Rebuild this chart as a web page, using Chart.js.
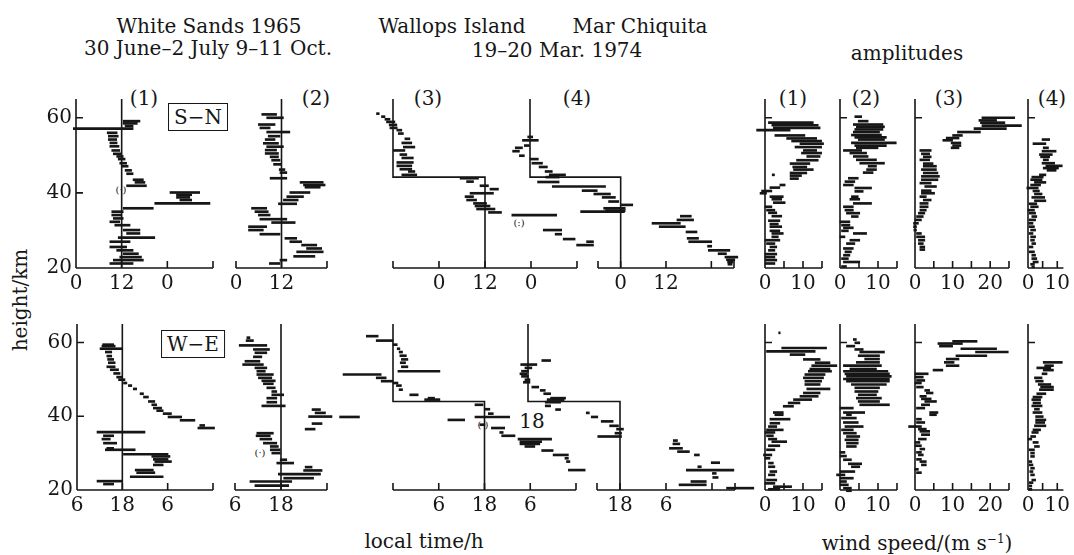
<!DOCTYPE html>
<html>
<head>
<meta charset="utf-8">
<script src="https://cdn.jsdelivr.net/npm/chart.js@4.4.1/dist/chart.umd.min.js"></script>
<style>
  html, body { margin: 0; padding: 0; background: #fff; }
  #page { position: relative; width: 1074px; height: 555px; overflow: hidden;
          font-family: 'DejaVu Serif', serif; color: #161616; }
  #page canvas { position: absolute; left: 0; top: 0; }
  .t { position: absolute; white-space: nowrap; transform: translate(-50%, -50%);
       font-size: 20px; line-height: 1; }
  .box { border: 1.5px solid #161616; padding: 3px 5px; }
  .small { font-size: 10px; }
  .rot { transform: translate(-50%, -50%) rotate(-90deg); }
</style>
</head>
<body>
<div id="page">
  <div class="t" style="left:209px;top:26px">White Sands 1965</div>
  <div class="t" style="left:208px;top:48px">30 June–2 July 9–11 Oct.</div>
  <div class="t" style="left:452px;top:26px">Wallops Island</div>
  <div class="t" style="left:640px;top:26px">Mar Chiquita</div>
  <div class="t" style="left:557px;top:50px">19–20 Mar. 1974</div>
  <div class="t" style="left:907px;top:53px">amplitudes</div>

  <div class="t" style="left:144px;top:98px">(1)</div>
  <div class="t" style="left:316px;top:98px">(2)</div>
  <div class="t" style="left:428px;top:98px">(3)</div>
  <div class="t" style="left:577px;top:98px">(4)</div>
  <div class="t" style="left:793px;top:98px">(1)</div>
  <div class="t" style="left:866px;top:98px">(2)</div>
  <div class="t" style="left:949px;top:98px">(3)</div>
  <div class="t" style="left:1052px;top:98px">(4)</div>

  <div class="t box" style="left:198px;top:117px">S−N</div>
  <div class="t box" style="left:193px;top:344px">W−E</div>
  <div class="t" style="left:532px;top:421px">18</div>
  <div class="t small" style="left:121px;top:190px">(·)</div>
  <div class="t small" style="left:519px;top:223px">(:)</div>
  <div class="t small" style="left:260px;top:453px">(·)</div>
  <div class="t small" style="left:483px;top:425px">(·)</div>

  <div class="t rot" style="left:20px;top:300px">height/km</div>
  <div class="t" style="left:424px;top:541px">local time/h</div>
  <div class="t" style="left:917px;top:543px">wind speed/(m s<sup style="font-size:12px">−1</sup>)</div>
</div>
<script>
// each bar: [height km, low, high]
const heightTicks = [20, 40, 60];

const snPhase1 = [
  [59.1,12.4,16.8],[58.5,12.4,16.1],[57.8,12.9,15.0],[57.1,-0.7,15.0],[56.0,8.2,10.8],[55.1,8.5,11.1],
  [54.2,8.5,10.7],[53.3,8.9,10.8],[52.4,8.9,11.3],[51.3,9.4,11.5],[50.4,9.8,12.0],[49.7,10.7,12.4],
  [49.0,11.1,12.9],[47.9,11.5,13.3],[47.1,12.0,13.7],[46.0,12.9,14.6],[45.1,13.3,15.0],[43.5,15.0,17.7],
  [42.8,15.5,18.1],[41.9,13.3,18.5],[40.1,24.7,32.5],[39.5,26.4,30.4],[38.8,26.4,29.9],[38.1,27.3,30.4],
  [37.2,20.7,35.2],[35.9,12.4,20.3],[35.0,9.4,12.4],[34.1,9.4,11.9],[33.2,9.8,12.4],[32.3,8.9,11.5],
  [31.4,10.2,14.2],[30.1,12.4,16.8],[29.2,13.3,16.8],[28.1,11.1,20.7],[27.0,8.9,14.2],[25.6,8.9,13.3],
  [24.7,10.7,15.0],[23.8,12.4,16.4],[22.9,11.5,17.2],[22.1,9.8,17.7],[21.2,8.9,15.0]
];
const snPhase2 = [
  [60.9,6.8,10.7],[60.0,8.1,12.5],[58.2,5.9,10.3],[57.3,6.3,9.0],[56.2,8.1,14.2],[55.1,8.5,11.6],
  [54.2,7.7,10.3],[53.2,7.2,11.2],[52.3,8.1,12.5],[51.4,7.7,10.7],[50.5,7.7,11.2],[49.6,9.0,11.2],
  [48.7,9.4,11.6],[47.6,9.9,12.0],[46.2,11.4,12.9],[45.4,11.6,13.4],[43.9,9.0,13.4],[42.8,16.9,23.0],
  [42.1,17.8,23.5],[41.5,18.2,22.2],[40.1,14.2,19.5],[39.0,13.4,17.8],[38.1,12.5,16.4],[37.1,11.2,16.0],
  [35.9,4.1,8.1],[35.0,5.0,8.5],[34.1,5.9,9.0],[33.0,6.3,13.4],[32.1,9.4,15.6],[31.0,3.3,8.1],
  [30.1,3.3,7.2],[29.0,6.3,11.6],[27.9,12.9,16.0],[27.0,14.2,17.3],[26.1,17.3,21.3],[25.2,18.6,22.6],
  [24.3,16.0,23.0],[23.1,15.2,20.8],[22.1,11.6,13.4],[21.2,8.8,11.6]
];
const snPhase3 = [
  [61.1,-16.3,-15.6],[60.3,-15.0,-14.1],[59.6,-14.1,-12.8],[58.9,-13.7,-11.5],[58.1,-13.0,-11.0],
  [57.3,-12.8,-10.9],[56.7,-11.0,-9.7],[55.8,-10.6,-9.3],[54.4,-8.9,-7.6],[53.3,-9.7,-7.1],[52.2,-9.3,-6.3],
  [51.3,-11.9,-8.9],[50.2,-10.2,-8.4],[49.3,-9.7,-6.7],[48.1,-11.0,-6.7],[47.2,-11.0,-7.1],[46.3,-10.2,-7.1],
  [45.7,-8.0,-6.3],[44.8,-9.7,-5.8],[43.9,5.5,10.3],[43.0,7.2,9.0],[41.9,10.7,12.9],[41.0,13.3,15.5],
  [39.9,8.1,14.2],[39.0,6.8,9.0],[38.1,7.2,9.8],[37.2,9.0,12.4],[36.5,9.4,13.3],[35.7,9.8,14.6],
  [34.8,12.9,16.3],[34.1,19.0,30.7],[30.1,27.2,32.0],[29.0,30.3,32.0],[27.7,32.4,35.5],[27.0,38.5,40.3],
  [26.1,35.9,40.3]
];
const snPhase4 = [
  [54.9,-24.6,-23.3],[54.0,-26.0,-21.8],[52.6,-25.5,-24.2],[52.0,-27.9,-26.0],[51.1,-28.6,-26.8],
  [49.9,-26.8,-25.5],[49.0,-24.0,-21.8],[47.9,-23.5,-20.7],[46.9,-21.6,-19.4],[45.7,-20.0,-18.1],
  [44.8,-18.9,-14.6],[44.2,-19.8,-16.3],[42.9,-22.0,-16.3],[41.7,-18.1,-4.0],[40.6,-10.2,-6.2],
  [39.7,-7.1,-2.7],[38.8,-4.9,-1.4],[37.7,-3.2,-0.5],[36.8,0.2,3.2],[35.9,-4.5,1.2],[35.3,-4.0,1.2],
  [35.0,-10.6,1.0],[33.8,15.8,18.7],[32.8,14.9,19.3],[31.9,8.3,15.8],[31.0,10.2,17.1],[29.6,17.3,20.2],
  [27.9,17.6,20.6],[27.0,18.0,24.1],[25.8,23.0,24.1],[24.7,23.2,28.9],[23.8,25.8,28.0],[22.9,27.6,31.0],
  [22.2,28.0,30.2],[21.6,28.3,29.7],[21.0,28.4,29.5]
];
const snAmp1 = [
  [58.7,0.9,12.7],[58.0,1.8,14.0],[57.3,2.2,14.5],[56.7,-2.2,6.6],[55.3,2.6,10.5],[54.5,5.7,13.6],
  [53.8,7.0,14.9],[53.1,9.2,15.4],[52.2,7.9,14.9],[51.3,10.1,13.6],[50.6,9.6,14.9],[49.7,11.0,14.5],
  [48.7,8.3,14.0],[47.8,6.6,11.8],[46.9,7.3,11.0],[46.2,7.5,12.7],[45.3,6.6,11.0],[44.6,6.6,9.6],
  [43.8,6.6,8.8],[44.8,1.9,2.5],[42.1,3.9,5.3],[41.4,1.3,3.9],[40.5,-0.9,1.8],[39.9,-1.3,0.4],[39.0,1.3,4.8],
  [38.3,1.8,4.4],[37.4,2.2,5.3],[36.3,0,1.8],[35.4,0.4,2.6],[34.7,0.9,3.1],[33.8,1.8,4.4],[32.6,0.9,3.9],
  [31.7,1.3,3.5],[31.0,1.3,4.4],[29.9,1.3,3.9],[29.2,1.8,4.8],[28.3,1.8,3.5],[27.4,0,3.9],[26.5,0.4,2.6],
  [25.6,1.3,3.1],[24.7,0.9,2.6],[23.7,0,3.1],[22.9,0,2.6],[22.1,0,3.1],[21.2,0,2.6]
];
const snAmp2 = [
  [60.3,3.9,5.7],[59.1,4.8,7.4],[58.2,3.5,11.3],[57.6,4.3,11.7],[56.9,3.9,11.3],[56.2,3.5,10.4],
  [55.4,3.0,10.9],[54.8,3.9,12.2],[54.2,4.8,11.7],[53.3,3.0,14.8],[52.6,3.9,12.2],[52.0,4.3,10.0],
  [51.3,0.9,5.7],[50.6,2.6,7.0],[49.7,3.5,7.4],[48.8,4.3,9.6],[47.9,5.2,11.7],[47.1,7.4,9.6],[46.2,7.0,9.6],
  [45.4,6.1,8.7],[43.9,2.2,4.8],[43.0,1.3,3.9],[42.1,0.9,3.5],[41.3,3.9,8.3],[40.4,3.9,6.1],[39.0,3.0,4.8],
  [38.3,2.6,5.2],[37.2,3.5,8.3],[36.3,0.9,3.5],[35.4,1.3,3.5],[34.6,1.7,5.2],[33.7,3.0,4.8],[32.3,0,2.6],
  [31.4,0.4,2.6],[30.7,0.9,3.5],[29.9,0.4,2.2],[29.2,3.5,7.0],[28.3,0,1.3],[27.4,2.6,5.2],[26.5,1.7,3.9],
  [25.2,0.9,3.5],[24.3,1.3,3.0],[23.4,0.9,2.6],[22.5,0.4,2.2],[21.6,0.9,5.2],[20.4,0.4,1.7]
];
const snAmp3 = [
  [60.0,17.8,26.5],[59.3,17.0,21.7],[58.7,17.4,23.9],[57.9,17.8,28.3],[57.1,15.7,24.3],[56.2,11.3,17.4],
  [55.3,10.0,12.6],[54.6,8.3,11.7],[54.0,7.4,10.0],[53.3,9.6,12.2],[52.6,10.0,12.2],[52.0,9.6,11.7],
  [51.3,1.3,4.3],[50.4,1.7,3.9],[49.6,2.2,4.3],[48.8,1.3,3.9],[47.8,2.2,4.8],[47.1,2.2,5.7],[46.2,1.7,5.7],
  [45.3,2.2,6.1],[44.4,1.7,6.5],[43.5,1.7,6.1],[42.6,1.3,4.3],[41.7,2.6,5.7],[40.6,1.7,4.3],[39.9,1.7,5.2],
  [39.0,1.3,3.0],[38.1,2.2,4.3],[37.2,1.3,3.5],[36.3,1.3,3.5],[35.4,1.3,3.0],[34.6,0.9,2.6],[33.7,0.4,2.2],
  [32.8,0,1.7],[31.9,-0.4,0.9],[31.0,-0.4,0.4],[30.1,-0.3,0.4],[29.2,0.4,1.7],[28.3,0.4,2.6],[27.4,0.9,2.6],
  [26.5,0.9,2.2],[25.6,1.3,2.6],[24.9,1.3,2.6]
];
const snAmp4 = [
  [54.2,4.8,7.4],[53.1,1.7,6.1],[52.0,5.2,7.0],[51.1,4.8,9.6],[50.2,3.9,8.3],[49.6,4.3,7.4],[48.8,5.2,7.0],
  [47.9,4.8,9.1],[47.2,6.1,11.7],[46.6,5.2,10.4],[46.0,6.5,9.6],[44.8,3.9,6.1],[44.2,1.3,5.2],[43.5,0.9,4.8],
  [42.8,2.2,6.1],[42.1,0.9,4.3],[41.3,-0.4,3.5],[40.5,1.7,3.9],[39.7,2.2,4.8],[38.8,1.3,5.7],[37.9,2.2,6.1],
  [37.1,0.4,3.0],[36.3,0.9,3.5],[35.4,0,2.2],[34.6,0.4,2.6],[33.7,1.3,3.0],[32.8,0.4,2.6],[31.9,0.3,1.7],
  [31.0,0.4,2.2],[30.1,0.9,2.6],[29.2,0.4,1.7],[28.3,0.9,2.6],[27.4,0.9,2.2],[26.5,1.3,2.6],[25.6,0.4,1.7],
  [24.3,0.4,2.2],[23.4,1.3,2.6],[22.5,1.3,3.0],[21.6,1.7,3.5],[21.0,0.9,2.2],[20.3,1.3,2.2]
];

const wePhase1 = [
  [59.4,12.8,15.7],[59.0,12.6,16.1],[58.3,12.1,18.1],[57.4,13.5,15.2],[56.3,13.9,15.2],[55.4,14.1,15.7],
  [54.5,14.3,16.1],[53.4,13.9,16.1],[52.6,14.8,17.0],[51.6,15.7,17.4],[50.6,16.5,17.9],[49.9,17.0,18.7],
  [49.0,18.3,19.2],[48.3,19.6,20.5],[47.4,20.9,21.8],[46.1,22.7,23.6],[45.2,23.6,24.9],[44.0,24.9,26.6],
  [43.1,25.8,27.1],[42.2,26.2,28.4],[41.5,27.1,28.8],[40.7,28.8,31.0],[39.8,30.1,33.7],[38.9,33.3,37.2],
  [37.5,38.5,39.8],[36.8,38.0,42.4],[35.7,11.3,24.0],[34.7,13.0,15.7],[33.8,12.6,14.8],[32.7,13.0,16.5],
  [31.3,13.9,15.7],[30.9,13.5,21.4],[29.7,18.3,30.1],[29.1,25.8,30.6],[28.3,26.2,30.1],[27.7,26.6,31.0],
  [26.8,26.2,28.8],[25.4,21.4,26.2],[24.7,21.8,26.6],[23.6,20.1,28.8],[22.4,11.3,17.9],[21.6,13.0,15.7]
];
const wePhase2 = [
  [61.3,9.1,9.9],[60.5,8.9,10.8],[59.2,7.1,14.3],[58.1,10.8,15.0],[57.2,11.2,14.3],[56.1,10.8,13.0],
  [54.9,8.6,12.5],[54.0,8.0,13.4],[53.1,11.2,14.3],[52.2,11.7,13.9],[51.3,11.7,16.0],[50.4,12.1,15.6],
  [49.6,13.0,16.5],[48.8,13.4,16.0],[47.7,14.3,16.5],[46.7,15.6,16.9],[45.8,15.6,18.7],[44.9,14.3,16.9],
  [43.8,14.3,16.9],[42.8,13.0,19.1],[41.8,26.1,28.3],[40.9,26.9,29.6],[39.9,25.2,31.3],[38.0,26.1,28.7],
  [36.5,24.3,26.9],[35.4,11.7,16.0],[34.7,11.5,15.2],[33.8,12.5,15.6],[32.7,13.4,16.9],[31.8,15.2,17.3],
  [30.9,15.2,17.8],[30.0,15.6,17.8],[28.2,17.8,19.5],[27.3,16.9,21.3],[26.2,24.3,26.1],[25.3,23.9,28.7],
  [24.3,17.3,28.3],[23.2,18.7,26.5],[22.3,9.9,20.8],[21.2,11.2,20.0]
];
const wePhase3 = [
  [61.7,-13.0,-9.9],[60.5,-10.4,-6.0],[59.4,-6.0,-4.9],[58.3,-4.9,-4.2],[57.4,-4.4,-3.5],[56.4,-4.2,-2.5],
  [55.4,-3.8,-2.1],[54.5,-4.1,-2.7],[53.4,-3.8,-2.1],[52.2,-4.7,6.3],[51.3,-19.1,-9.1],[50.4,-10.4,-7.8],
  [49.5,-9.1,-6.0],[49.0,-6.0,-4.7],[48.3,-5.1,-3.8],[47.2,-4.4,-3.5],[45.8,-1.6,0.6],[44.9,3.2,4.9],
  [44.5,2.3,6.3],[43.1,15.5,17.6],[41.9,18.1,19.4],[40.7,19.0,20.3],[39.8,-20.0,-14.8],[39.8,15.5,24.6],
  [39.0,8.4,12.8],[37.7,16.8,18.1],[36.8,19.8,23.3],[35.6,22.0,22.9],[34.7,22.5,26.0],[33.8,26.8,35.6],
  [33.1,27.3,33.0],[32.5,27.3,32.5],[31.8,28.6,31.2],[30.7,33.0,36.0],[29.5,36.0,40.0],[28.6,39.1,40.0],
  [27.7,39.5,40.4],[25.4,40.0,44.4]
];
const wePhase4 = [
  [55.1,-2.4,-0.1],[54.0,-7.9,-3.7],[53.1,-6.8,-5.0],[52.2,-7.7,-5.9],[51.5,-8.1,-6.3],[50.8,-7.7,-5.9],
  [49.9,-6.8,-5.5],[49.2,-7.2,-5.5],[47.9,-5.0,-3.2],[47.0,-2.8,-1.5],[46.1,-1.9,-0.1],[44.9,-0.1,3.8],
  [44.5,-1.0,3.4],[43.8,-1.5,2.5],[42.8,-1.5,-0.1],[41.8,1.2,2.5],[40.9,9.2,10.0],[39.8,10.5,12.2],
  [38.6,13.1,16.2],[37.4,15.3,17.6],[36.5,17.1,18.9],[35.4,16.7,18.4],[34.5,12.2,18.4],[33.4,31.9,33.0],
  [32.5,31.8,33.6],[31.3,30.9,34.3],[30.4,33.0,36.1],[29.5,37.4,38.7],[27.4,41.8,44.0],[26.3,38.3,39.2],
  [25.4,35.3,47.7],[24.5,42.1,43.1],[23.4,42.2,43.6],[22.3,36.5,40.5],[21.4,33.4,40.5],[20.5,45.8,52.9]
];
const weAmp1 = [
  [62.6,3.6,4.0],[58.5,4.4,16.2],[57.6,0.4,13.2],[56.7,6.6,10.5],[55.4,10.1,14.5],[54.5,13.2,17.1],
  [53.7,12.3,18.9],[52.8,11.8,17.1],[52.2,11.4,17.5],[51.3,10.5,15.8],[50.4,10.1,15.4],[49.5,10.5,14.9],
  [48.6,10.5,14.5],[47.4,11.0,17.1],[46.3,10.1,14.5],[45.4,9.2,14.0],[44.5,7.5,12.3],[43.6,6.1,9.2],
  [42.7,4.8,7.5],[41.0,2.2,4.8],[40.4,2.6,4.8],[39.2,1.3,6.6],[38.1,1.3,3.9],[37.2,0.9,3.1],[36.3,0.4,4.8],
  [35.6,0,2.6],[34.7,0.4,2.2],[33.8,0.9,3.1],[33.1,1.8,5.7],[32.0,0.9,3.9],[30.9,0.4,2.6],[29.5,-0.4,1.8],
  [28.6,0,1.3],[27.3,0.9,2.2],[26.3,0.9,2.6],[25.0,1.3,3.1],[24.1,0.9,2.6],[22.7,0.4,3.1],[21.8,0,2.6],
  [20.9,2.2,7.0],[20.2,0.9,3.9]
];
const weAmp2 = [
  [60.8,3.5,4.3],[59.9,3.9,5.2],[59.0,1.7,3.9],[58.1,3.9,6.1],[57.4,5.2,11.7],[56.4,4.8,10.4],[55.5,6.5,10.4],
  [54.6,4.3,10.4],[53.7,0.9,10.9],[52.8,2.6,9.6],[52.2,0.9,12.6],[51.5,1.3,13.0],[50.8,1.7,13.5],
  [50.1,0.9,13.0],[49.5,1.7,13.0],[48.6,3.0,12.2],[47.7,3.9,10.4],[46.7,3.9,10.0],[45.8,4.8,9.6],
  [44.9,4.3,10.9],[44.0,4.8,10.4],[43.1,5.2,13.0],[42.2,0,3.5],[41.0,0.9,6.5],[40.4,1.7,3.0],[39.5,0.4,4.3],
  [38.3,0.9,4.8],[37.2,1.3,6.1],[36.3,0.4,3.5],[35.4,0.9,4.3],[34.5,1.7,5.2],[33.6,1.3,4.8],[32.7,1.7,4.8],
  [31.8,1.7,4.3],[30.2,0,1.3],[29.2,0,1.7],[28.2,0.9,3.0],[27.1,2.2,5.7],[26.3,3.0,5.2],[25.0,0,3.9],
  [24.1,-0.9,1.3],[23.2,0,3.5],[22.3,0,1.7],[21.4,0,2.2],[20.5,0.9,3.0],[19.8,1.7,3.0]
];
const weAmp3 = [
  [60.3,10.0,16.5],[59.7,6.1,12.6],[59.0,6.5,10.0],[58.3,12.2,21.7],[57.4,16.1,24.8],[56.4,10.9,19.1],
  [55.5,8.3,11.7],[54.6,7.8,10.4],[53.7,8.3,11.7],[52.5,4.8,7.4],[51.5,0,3.5],[50.6,0,2.2],[49.7,0.4,2.6],
  [49.0,0,1.7],[47.9,0.4,2.2],[47.0,2.6,3.9],[46.3,3.0,4.8],[45.4,1.3,3.0],[44.7,1.7,4.3],[44.0,2.6,5.7],
  [43.1,1.7,3.9],[42.2,0.4,2.6],[41.0,3.9,6.1],[40.4,3.9,5.7],[39.2,0.4,1.7],[38.3,0.4,2.6],[37.2,-1.7,1.7],
  [36.5,0.9,3.0],[35.9,1.3,3.9],[35.0,1.7,3.9],[33.8,0.9,3.0],[32.9,0,1.3],[32.0,0,1.7],[31.1,1.3,2.6],
  [30.2,0.4,1.7],[29.5,0.9,2.2],[28.3,0.4,1.7],[27.7,1.3,3.0],[26.8,1.7,3.0],[25.6,0,0.9],[24.7,0.4,1.7]
];
const weAmp4 = [
  [54.6,5.2,11.7],[53.7,5.7,8.7],[53.1,3.0,7.8],[52.5,5.2,8.7],[51.5,4.8,6.5],[50.4,2.2,4.8],[49.5,2.6,5.2],
  [48.6,3.5,7.8],[47.9,4.3,8.7],[47.2,3.9,8.7],[46.1,3.0,6.1],[45.2,1.7,4.8],[44.5,1.3,4.3],[43.6,1.7,4.3],
  [42.8,1.3,4.8],[41.9,2.2,3.9],[41.0,1.7,4.8],[39.9,2.6,5.2],[39.0,2.6,6.1],[38.3,2.6,5.7],[37.4,2.2,6.1],
  [36.3,1.7,4.3],[35.6,1.3,3.5],[34.5,0.9,2.6],[33.8,0,1.3],[32.9,1.7,3.5],[31.8,2.2,3.9],[30.9,0.4,2.2],
  [30.0,0.9,2.2],[29.1,0.9,2.2],[27.7,0.3,1.3],[26.8,0.4,1.7],[25.9,0.9,2.2],[25.0,0.6,1.7],[24.1,0.9,2.2],
  [22.7,1.3,2.6],[22.0,0.4,1.7],[21.1,0.4,1.3],[20.2,0.3,1.3]
];

// reference phase lines: [time, height]
const refSN1 = [[12,65],[12,20]];
const refSN3 = [[-12,65],[-12,44.2],[12,44.2],[12,20]];
const refSN4 = [[-24,65],[-24,44.2],[0,44.2],[0,20]];
const refWE1 = [[18,65],[18,20]];
const refWE3 = [[-6,65],[-6,44],[18,44],[18,20]];

// axis ticks and their labels
const snTicks1 = [0,12,24,36],      snLabels1 = ['0','12','0',''];
const snTicks2 = [0,12,24],         snLabels2 = ['0','12',''];
const snTicks3 = [-12,0,12,24,36],  snLabels3 = ['','0','12','0',''];
const snTicks4 = [-6,0,12,24,30],   snLabels4 = ['','0','12','',''];
const weTicks1 = [6,18,30,42],      weLabels1 = ['6','18','6',''];
const weTicks2 = [6,18,30],         weLabels2 = ['6','18',''];
const weTicks3 = [-6,6,18,30,42],   weLabels3 = ['','6','18','6',''];
const weTicks4 = [12,18,30,42,48],  weLabels4 = ['','18','6','',''];
const ampTicks15 = [0,5,10,15],     ampLabels15 = ['0','','10',''];
const ampTicks25 = [0,5,10,15,20,25], ampLabels25 = ['0','','10','','20',''];
const ampTicks12 = [0,5,10],        ampLabels12 = ['0','','10'];

const INK = '#161616';
Chart.defaults.font.family = "'DejaVu Serif', serif";
Chart.defaults.font.size = 20;
Chart.defaults.color = INK;

const W = 1074, H = 555, XH = 30, YW = 40;
const rowSN = { top: 99, bottom: 268 };
const rowWE = { top: 324, bottom: 490 };

// axis line with inward ticks, optional left axis
const framePlugin = {
  id: 'frame',
  afterDatasetsDraw(chart, args, opts) {
    const { ctx, chartArea: a, scales: { x, y } } = chart;
    ctx.save();
    ctx.strokeStyle = INK;
    ctx.lineWidth = 1.6;
    ctx.beginPath();
    ctx.moveTo(a.left, a.bottom);
    ctx.lineTo(a.right, a.bottom);
    opts.ticks.forEach(v => {
      const px = x.getPixelForValue(v);
      ctx.moveTo(px, a.bottom);
      ctx.lineTo(px, a.bottom - 7);
    });
    if (opts.left) {
      ctx.moveTo(a.left, a.bottom);
      ctx.lineTo(a.left, a.top);
      opts.yTicks.forEach(v => {
        const py = y.getPixelForValue(v);
        ctx.moveTo(a.left, py);
        ctx.lineTo(a.left + 7, py);
      });
    }
    ctx.stroke();
    ctx.restore();
  }
};

function panel(row, box, bars, ticks, labels, opt) {
  opt = opt || {};
  const cv = document.createElement('canvas');
  cv.width = W; cv.height = H;
  document.getElementById('page').appendChild(cv);
  const lbl = {};
  ticks.forEach((t, i) => { lbl[t] = labels[i]; });
  const yw = opt.yLabels ? YW : 0;

  const datasets = [{
    type: 'bar', indexAxis: 'y',
    data: bars.map(b => ({ y: b[0], x: [b[1], b[2]] })),
    backgroundColor: INK, borderWidth: 0, barThickness: 2, clip: false
  }];
  if (opt.ref) {
    datasets.push({
      type: 'line', indexAxis: 'y',
      data: opt.ref.map(r => ({ x: r[0], y: r[1] })),
      borderColor: INK, borderWidth: 1.6, pointRadius: 0, fill: false, tension: 0, clip: false
    });
  }

  new Chart(cv, {
    type: 'bar',
    data: { datasets },
    options: {
      indexAxis: 'y', responsive: false, animation: false, devicePixelRatio: 1, events: [],
      layout: { padding: { left: box[0] - yw, right: W - box[1], top: row.top, bottom: H - row.bottom - XH } },
      plugins: {
        legend: { display: false }, tooltip: { enabled: false },
        frame: { ticks, left: !!opt.left, yTicks: opt.yTicks || [] }
      },
      scales: {
        x: {
          type: 'linear', min: box[2], max: box[3], offset: false,
          grid: { display: false, drawTicks: false }, border: { display: false },
          afterBuildTicks: s => { s.ticks = ticks.map(v => ({ value: v })); },
          afterFit: s => { s.height = XH; },
          ticks: { autoSkip: false, maxRotation: 0, padding: 4, callback: v => lbl[v] ?? '' }
        },
        y: {
          type: 'linear', min: 20, max: 65, offset: false, display: !!opt.yLabels,
          grid: { display: false, drawTicks: false, offset: false }, border: { display: false },
          afterBuildTicks: s => { s.ticks = heightTicks.map(v => ({ value: v })); },
          afterFit: s => { s.width = yw; },
          ticks: { padding: 4, callback: v => String(v) }
        }
      }
    },
    plugins: [framePlugin]
  });
}

// S-N row
panel(rowSN, [76, 213, 0, 36], snPhase1, snTicks1, snLabels1, { ref: refSN1, left: true, yLabels: true, yTicks: [40, 60] });
panel(rowSN, [236, 327, 0, 24], snPhase2, snTicks2, snLabels2, { ref: refSN1 });
panel(rowSN, [393, 577, -12, 36], snPhase3, snTicks3, snLabels3, { ref: refSN3 });
panel(rowSN, [598, 734, -6, 30], snPhase4, snTicks4, snLabels4, { ref: refSN4 });
panel(rowSN, [765, 822, 0, 15], snAmp1, ampTicks15, ampLabels15, { left: true, yTicks: [60] });
panel(rowSN, [840, 897, 0, 15], snAmp2, ampTicks15, ampLabels15, { left: true, yTicks: [60] });
panel(rowSN, [915, 1009, 0, 25], snAmp3, ampTicks25, ampLabels25, { left: true, yTicks: [60] });
panel(rowSN, [1028, 1074, 0, 12.1], snAmp4, ampTicks12, ampLabels12, { left: true, yTicks: [60] });

// W-E row
panel(rowWE, [77, 213, 6, 42], wePhase1, weTicks1, weLabels1, { ref: refWE1, left: true, yLabels: true, yTicks: [40, 60] });
panel(rowWE, [235, 327, 6, 30], wePhase2, weTicks2, weLabels2, { ref: refWE1 });
panel(rowWE, [393, 576, -6, 42], wePhase3, weTicks3, weLabels3, { ref: refWE3 });
panel(rowWE, [597, 735, 12, 48], wePhase4, weTicks4, weLabels4, { ref: refWE3 });
panel(rowWE, [765, 822, 0, 15], weAmp1, ampTicks15, ampLabels15, { left: true, yTicks: [60] });
panel(rowWE, [840, 897, 0, 15], weAmp2, ampTicks15, ampLabels15, { left: true, yTicks: [60] });
panel(rowWE, [915, 1009, 0, 25], weAmp3, ampTicks25, ampLabels25, { left: true, yTicks: [60] });
panel(rowWE, [1028, 1074, 0, 12.1], weAmp4, ampTicks12, ampLabels12, { left: true, yTicks: [60] });
</script>
</body>
</html>
